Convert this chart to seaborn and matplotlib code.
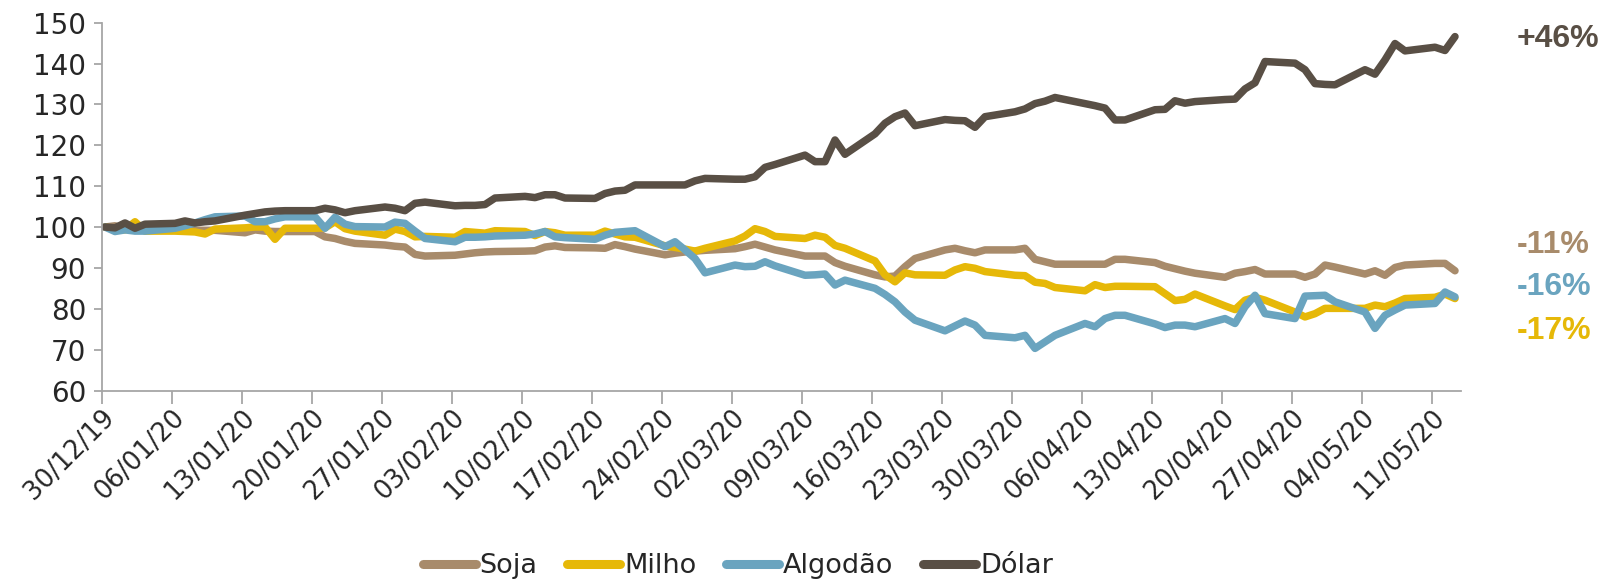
import numpy as np
import pandas as pd
import matplotlib
matplotlib.use("Agg")
import matplotlib.pyplot as plt
import matplotlib.dates as mdates
from matplotlib.lines import Line2D
import seaborn as sns

# ---- data (index 30/12/19 = 100), business days 30/12/19 .. 13/05/20 ----
dates = pd.bdate_range("2019-12-30", "2020-05-13")

soja = [100.0, 100.3, 99.6, 99.5, 99.3,
        99.3, 99.3, 99.2, 99.2, 99.2,
        98.6, 99.3, 99.0, 98.9, 98.9,
        98.9, 97.6, 97.2, 96.5, 96.0,
        95.6, 95.3, 95.1, 93.3, 92.9,
        93.1, 93.4, 93.7, 93.9, 94.0,
        94.1, 94.2, 95.1, 95.4, 95.0,
        94.9, 94.8, 95.7, 95.2, 94.6,
        93.2, 93.6, 93.9, 94.1, 94.3,
        94.7, 95.2, 95.8, 95.1, 94.4,
        92.9, 92.9, 92.9, 91.3, 90.4,
        88.3, 87.8, 88.0, 90.3, 92.3,
        94.4, 94.8, 94.2, 93.7, 94.4,
        94.4, 94.8, 92.1, 91.5, 90.9,
        90.9, 90.9, 90.9, 92.1, 92.1,
        91.3, 90.4, 89.8, 89.2, 88.7,
        87.7, 88.7, 89.1, 89.6, 88.5,
        88.5, 87.7, 88.5, 90.7, 90.2,
        88.5, 89.3, 88.2, 90.1, 90.7,
        91.1, 91.1, 89.3]

milho = [100.0, 99.5, 99.3, 101.3, 99.0,
         99.0, 98.9, 98.8, 98.3, 99.5,
         99.8, 100.0, 100.0, 97.0, 99.7,
         99.7, 99.8, 101.3, 99.6, 99.0,
         98.0, 99.5, 98.9, 97.6, 97.7,
         97.5, 98.9, 98.7, 98.5, 99.1,
         98.9, 97.9, 98.9, 98.6, 98.0,
         98.0, 99.0, 98.3, 97.6, 97.5,
         95.4, 95.0, 94.6, 94.1, 94.8,
         96.6, 97.8, 99.6, 98.9, 97.7,
         97.2, 98.0, 97.5, 95.5, 94.8,
         91.7, 88.3, 86.6, 88.8, 88.3,
         88.2, 89.5, 90.3, 89.9, 89.1,
         88.2, 88.1, 86.5, 86.2, 85.2,
         84.4, 85.9, 85.2, 85.5, 85.5,
         85.4, 83.7, 82.0, 82.3, 83.6,
         80.7, 79.8, 82.1, 82.8, 82.1,
         79.2, 78.0, 78.8, 80.1, 80.1,
         80.1, 80.9, 80.5, 81.4, 82.5,
         82.8, 83.6, 82.5]

algodao = [100.0, 98.9, 99.3, 99.0, 99.0,
           99.7, 100.3, 101.0, 101.8, 102.5,
           102.7, 101.3, 101.3, 102.0, 102.5,
           102.5, 99.7, 102.4, 100.7, 100.1,
           100.0, 101.2, 100.9, 99.0, 97.2,
           96.4, 97.5, 97.5, 97.6, 97.8,
           98.0, 98.3, 98.9, 97.6, 97.4,
           97.0, 98.0, 98.7, 98.9, 99.1,
           95.2, 96.4, 94.4, 92.3, 88.8,
           90.7, 90.3, 90.4, 91.5, 90.5,
           88.2, 88.3, 88.5, 85.8, 87.0,
           85.0, 83.5, 81.7, 79.2, 77.2,
           74.6, 75.8, 77.0, 76.0, 73.5,
           72.9, 73.5, 70.3, 71.9, 73.5,
           76.4, 75.6, 77.6, 78.4, 78.4,
           76.3, 75.4, 76.0, 76.0, 75.6,
           77.6, 76.4, 80.5, 83.3, 78.8,
           77.6, 83.1, 83.2, 83.3, 81.7,
           79.2, 75.2, 78.4, 79.7, 80.9,
           81.3, 84.1, 82.9]

dolar = [100.0, 99.8, 101.0, 99.7, 100.7,
         100.9, 101.5, 101.0, 101.3, 101.5,
         102.9, 103.3, 103.7, 103.9, 104.0,
         104.0, 104.6, 104.2, 103.5, 104.0,
         104.9, 104.6, 104.0, 105.8, 106.1,
         105.2, 105.3, 105.3, 105.5, 107.1,
         107.5, 107.2, 107.9, 107.9, 107.1,
         107.0, 108.2, 108.8, 109.0, 110.3,
         110.3, 110.3, 110.3, 111.3, 111.9,
         111.7, 111.7, 112.3, 114.6, 115.3,
         117.6, 116.0, 116.0, 121.3, 117.8,
         122.8, 125.4, 127.0, 127.9, 124.8,
         126.3, 126.1, 126.0, 124.4, 127.0,
         128.2, 128.9, 130.2, 130.8, 131.7,
         130.2, 129.7, 129.1, 126.2, 126.2,
         128.7, 128.8, 130.9, 130.3, 130.7,
         131.2, 131.3, 133.8, 135.3, 140.5,
         140.1, 138.5, 135.1, 134.9, 134.8,
         138.5, 137.4, 140.9, 144.9, 143.1,
         144.0, 143.2, 146.6]

series_names = ["Soja", "Milho", "Algodão", "Dólar"]
end_labels = ["-11%", "-17%", "-16%", "+46%"]
colors = ["#A88B6B", "#E6B808", "#6AA4BF", "#594F45"]

df = pd.DataFrame({"Data": dates, "Soja": soja, "Milho": milho,
                   "Algodão": algodao, "Dólar": dolar})
long = df.melt(id_vars="Data", var_name="Série", value_name="Índice")

# ---- figure ----
sns.set_style("white")
plt.rcParams["font.family"] = ["DejaVu Sans"]

fig = plt.figure(figsize=(16.04, 5.80), dpi=100)
ax = fig.add_axes([101.5 / 1604, 1 - 390.5 / 580, (1460.5 - 101.5) / 1604, (390.5 - 22.7) / 580])

sns.lineplot(data=long, x="Data", y="Índice", hue="Série", hue_order=series_names,
             palette=colors, linewidth=5.4, ax=ax, legend=False,
             solid_joinstyle="round", solid_capstyle="round")

d0 = mdates.date2num(dates[0])
d1 = mdates.date2num(dates[-1])
ax.set_xlim(d0 - 0.35, d1 + 0.55)
ax.set_ylim(60, 150)
ax.set_yticks(np.arange(60, 151, 10))
tick_dates = pd.date_range("2019-12-30", "2020-05-11", freq="7D")
ax.set_xticks(mdates.date2num(tick_dates) - 0.35)
ax.set_xticklabels([d.strftime("%d/%m/%y") for d in tick_dates])
ax.set_xlabel("")
ax.set_ylabel("")

for s in ["top", "right"]:
    ax.spines[s].set_visible(False)
for s in ["left", "bottom"]:
    ax.spines[s].set_color("#A6A6A6")
    ax.spines[s].set_linewidth(1.3)

ax.tick_params(axis="y", direction="out", length=6, width=1.3, color="#A6A6A6",
               labelsize=20, pad=5, left=True)
ax.tick_params(axis="x", direction="out", length=9, width=1.3, color="#A6A6A6",
               labelsize=18.5, pad=1, bottom=True)
for lbl in ax.get_xticklabels():
    lbl.set_rotation(45)
    lbl.set_ha("right")
    lbl.set_rotation_mode("anchor")

# end-of-line variation labels
label_y = {"Dólar": 39, "Soja": 245, "Algodão": 287, "Milho": 331}
for name, txt, col in zip(series_names, end_labels, colors):
    fig.text(1517 / 1604, 1 - label_y[name] / 580, txt, color=col,
             fontsize=23, fontweight="bold", ha="left", va="center",
             family=["Liberation Sans", "DejaVu Sans"])

# legend
handles = [Line2D([0], [0], color=c, lw=6.5, solid_capstyle="round") for c in colors]
fig.legend(handles, series_names, loc="center", ncol=4, frameon=False,
           bbox_to_anchor=(738 / 1604, 1 - 566 / 580), fontsize=19.5,
           handlelength=1.95, handletextpad=0.15, columnspacing=1.1)

fig.savefig("out.png", dpi=100)
